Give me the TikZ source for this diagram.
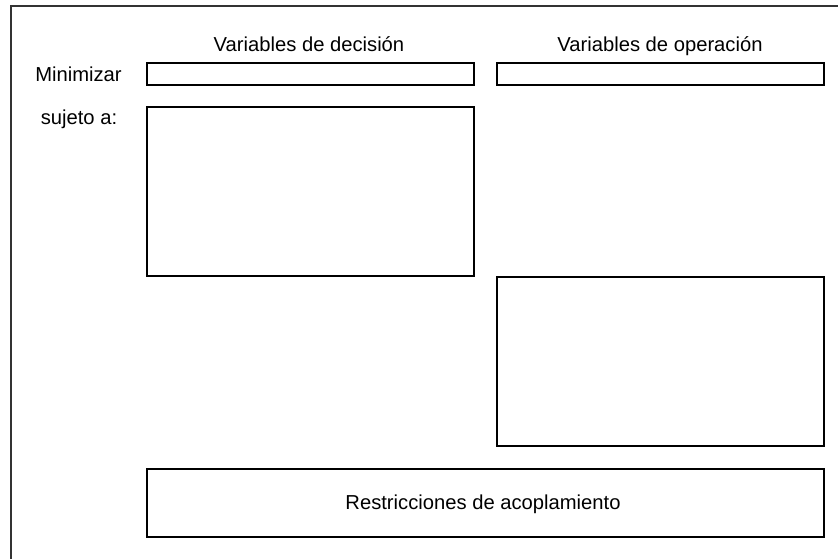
\documentclass[tikz,border=0pt]{standalone}
\usepackage{fontspec}
\setmainfont{Liberation Sans}
\begin{document}
\begin{tikzpicture}[x=1pt,y=-1pt,
  box/.style={draw=black,line width=1.3pt,minimum width=327pt,inner sep=0pt,outer sep=0pt},
  lbl/.style={anchor=base,inner sep=0pt,font=\fontsize{20.2}{24}\selectfont}]
\useasboundingbox (0,0) rectangle (838,558);
\fill[white] (0,0) rectangle (838,558);
\begin{scope}
\clip (0,0) rectangle (838,558);
\draw[line width=1.3pt,black!80] (11,575) -- (11,6) -- (860,6);
\end{scope}
\node[lbl] (tD) at (309,51) {Variables de decisión};
\node[lbl] (tO) at (660,51) {Variables de operación};
\node[lbl] (min) at (78.5,81) {Minimizar};
\node[lbl] (suj) at (79,124) {sujeto a:};
\node[box,minimum height=22pt] (objD) at (310.5,74) {};
\node[box,minimum height=22pt] (objO) at (660.5,74) {};
\node[box,minimum height=169pt] (consD) at (310.5,191.5) {};
\node[box,minimum height=169pt] (consO) at (660.5,361.5) {};
\node[box,minimum width=677pt,minimum height=68pt] (coup) at (485.5,503) {};
\node[lbl] (coupt) at (483,509) {Restricciones de acoplamiento};
\end{tikzpicture}
\end{document}
